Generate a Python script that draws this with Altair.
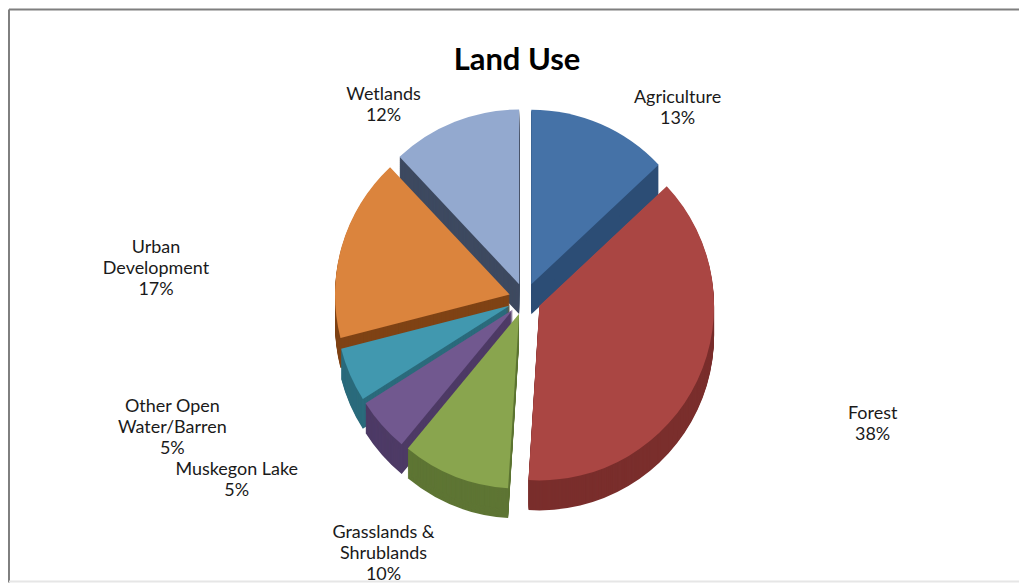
import altair as alt
import pandas as pd

# ---- data ----
categories = ["Agriculture", "Forest", "Grasslands &\nShrublands", "Muskegon Lake",
              "Other Open\nWater/Barren", "Urban\nDevelopment", "Wetlands"]
values = [13, 38, 10, 5, 5, 17, 12]
top_colors = ["#4572A7", "#AA4643", "#89A54E", "#71588F", "#4198AF", "#DB843D", "#93A9CF"]
side_colors = ["#2C4D75", "#7A2E2C", "#5E7534", "#4E3B66", "#2B6B7C", "#7F4315", "#3E4A60"]
title_text = ["Land Use"]

# ---- layout ----
W, H = 1012, 574
CX, CY = 517, 290
R = 175
EXPLODE = 16
DEPTH = 30
LRX, LRY = 385, 236
FONT = "Lato"

df = pd.DataFrame({
    "order": list(range(len(values))),
    "category": categories,
    "value": values,
    "top": top_colors,
    "side": side_colors,
})

base = (
    alt.Chart(df)
    .transform_joinaggregate(total="sum(value)")
    .transform_window(cum="sum(value)", sort=[alt.SortField("order")], frame=[None, 0])
    .transform_calculate(
        start="2*PI*(datum.cum - datum.value)/datum.total",
        end="2*PI*datum.cum/datum.total",
    )
    .transform_calculate(mid="(datum.start + datum.end)/2")
    .transform_calculate(
        px=f"{CX} + {EXPLODE}*sin(datum.mid)",
        py=f"{CY} - {EXPLODE}*cos(datum.mid)",
        lx=f"{CX} + {LRX}*sin(datum.mid)",
        ly=f"{CY} + {DEPTH/2} - {LRY}*cos(datum.mid)",
        label="datum.category + '\\n' + datum.value + '%'",
    )
)

side = (
    base.transform_calculate(depths=f"sequence(1, {DEPTH + 1}, 1)")
    .transform_flatten(["depths"])
    .transform_calculate(sy="datum.py + datum.depths")
    .mark_arc(outerRadius=R)
    .encode(
        x=alt.X("px:Q", scale=None, axis=None),
        y=alt.Y("sy:Q", scale=None, axis=None),
        theta=alt.Theta("start:Q", scale=None, stack=None),
        theta2="end:Q",
        color=alt.Color("side:N", scale=None),
        order=alt.Order("depths:Q", sort="descending"),
    )
)

top = base.mark_arc(outerRadius=R).encode(
    x=alt.X("px:Q", scale=None, axis=None),
    y=alt.Y("py:Q", scale=None, axis=None),
    theta=alt.Theta("start:Q", scale=None, stack=None),
    theta2="end:Q",
    color=alt.Color("top:N", scale=None),
)

labels = base.mark_text(
    lineBreak="\n", fontSize=18, font=FONT, align="center", baseline="middle",
    color="#1a1a1a", lineHeight=21,
).encode(
    x=alt.X("lx:Q", scale=None, axis=None),
    y=alt.Y("ly:Q", scale=None, axis=None),
    text="label:N",
)

title = alt.Chart(pd.DataFrame({"t": title_text})).mark_text(
    fontSize=31, fontWeight="bold", font=FONT, color="#000000"
).encode(
    x=alt.value(509),
    y=alt.value(52),
    text="t:N",
)

# frame: dark top and left edges, faint bottom edge (right edge lies off the page)
frame_top = alt.Chart(pd.DataFrame({"k": [0]})).mark_rule(color="#7f7f7f", strokeWidth=2).encode(
    x=alt.value(0), x2=alt.value(W), y=alt.value(0))
frame_left = alt.Chart(pd.DataFrame({"k": [0]})).mark_rule(color="#7f7f7f", strokeWidth=2).encode(
    x=alt.value(0), y=alt.value(0), y2=alt.value(H))
frame_bottom = alt.Chart(pd.DataFrame({"k": [0]})).mark_rule(color="#e6e6e6", strokeWidth=2).encode(
    x=alt.value(0), x2=alt.value(W), y=alt.value(H - 1))

chart = (
    alt.layer(side, top, labels, title, frame_top, frame_left, frame_bottom)
    .properties(width=W, height=H, padding=0)
    .configure_view(stroke=None)
)

chart.save("out.html", embed_options={"renderer": "svg", "actions": False})
